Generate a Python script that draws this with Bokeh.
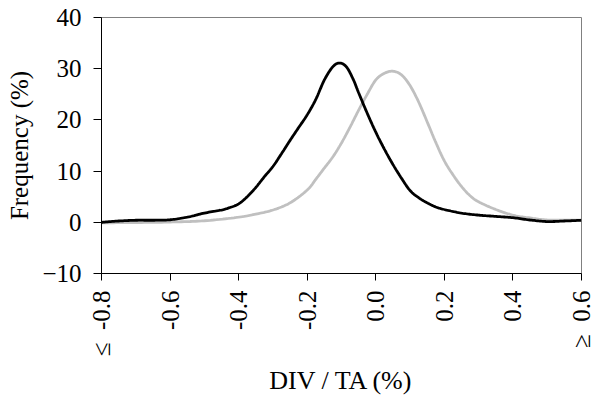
from bokeh.plotting import figure
from bokeh.models import FixedTicker, Range1d
from bokeh.embed import file_html
from bokeh.resources import INLINE

# Black series
x_black = [-0.800, -0.750, -0.700, -0.650, -0.600, -0.550, -0.500, -0.450, -0.425, -0.400,
           -0.375, -0.350, -0.325, -0.300, -0.275, -0.250, -0.225, -0.200, -0.175, -0.150,
           -0.125, -0.105, -0.085, -0.065, -0.050, -0.025, 0.000, 0.025, 0.050, 0.075,
           0.100, 0.125, 0.150, 0.175, 0.200, 0.250, 0.300, 0.350, 0.400, 0.450,
           0.500, 0.550, 0.600]
y_black = [0.0, 0.25, 0.4, 0.4, 0.5, 1.0, 1.8, 2.4, 2.9, 3.6,
           5.0, 6.8, 8.9, 10.9, 13.4, 16.0, 18.5, 21.0, 24.0, 27.8,
           30.4, 31.1, 30.3, 27.8, 25.3, 21.3, 17.6, 14.3, 11.3, 8.6,
           6.2, 4.8, 3.8, 3.0, 2.5, 1.8, 1.4, 1.15, 0.9, 0.45,
           0.15, 0.25, 0.4]

# Grey series
x_grey = [-0.800, -0.700, -0.600, -0.500, -0.400, -0.350, -0.300, -0.250, -0.200, -0.175,
          -0.150, -0.125, -0.100, -0.075, -0.050, -0.025, 0.000, 0.025, 0.050, 0.075,
          0.100, 0.125, 0.150, 0.175, 0.200, 0.225, 0.250, 0.275, 0.300, 0.350,
          0.400, 0.450, 0.500, 0.550, 0.600]
y_grey = [-0.1, -0.05, 0.05, 0.3, 1.0, 1.6, 2.4, 3.8, 6.3, 8.4,
          10.6, 12.8, 15.5, 18.6, 21.9, 25.0, 27.8, 29.1, 29.5, 28.8,
          26.7, 23.5, 19.6, 15.6, 12.0, 9.3, 7.0, 5.2, 4.0, 2.5,
          1.4, 0.85, 0.45, 0.4, 0.45]

x_ticks = [-0.8, -0.6, -0.4, -0.2, 0.0, 0.2, 0.4, 0.6]
x_tick_labels = ["\u2264\u00a0\u00a0-0.8", "-0.6", "-0.4", "-0.2", "0.0", "0.2", "0.4", "\u2265\u00a0\u00a00.6"]
y_ticks = [-10, 0, 10, 20, 30, 40]

FONT = "'Liberation Serif', 'Times New Roman', Times, serif"


def smooth(xs, ys, n=12):
    """Smoothed drawing of a polyline (Catmull-Rom), like a spreadsheet's smoothed line."""
    out_x, out_y = [], []
    m = len(xs)
    for i in range(m - 1):
        x0, y0 = (xs[i - 1], ys[i - 1]) if i > 0 else (xs[i], ys[i])
        x1, y1 = xs[i], ys[i]
        x2, y2 = xs[i + 1], ys[i + 1]
        x3, y3 = (xs[i + 2], ys[i + 2]) if i + 2 < m else (xs[i + 1], ys[i + 1])
        for k in range(n):
            t = k / n
            t2, t3 = t * t, t * t * t
            out_x.append(0.5 * (2 * x1 + (-x0 + x2) * t + (2 * x0 - 5 * x1 + 4 * x2 - x3) * t2
                                + (-x0 + 3 * x1 - 3 * x2 + x3) * t3))
            out_y.append(0.5 * (2 * y1 + (-y0 + y2) * t + (2 * y0 - 5 * y1 + 4 * y2 - y3) * t2
                                + (-y0 + 3 * y1 - 3 * y2 + y3) * t3))
    out_x.append(xs[-1])
    out_y.append(ys[-1])
    return out_x, out_y


p = figure(width=604, height=398, output_backend="svg", toolbar_location=None,
           x_range=Range1d(-0.8, 0.6), y_range=Range1d(-10, 40))
p.min_border_left = 101
p.min_border_right = 23
p.min_border_top = 17
p.min_border_bottom = 123
p.background_fill_color = "white"
p.border_fill_color = "white"
p.outline_line_color = "#808080"
p.outline_line_width = 1
p.xgrid.visible = False
p.ygrid.visible = False

gx, gy = smooth(x_grey, y_grey)
bx, by = smooth(x_black, y_black)
p.line(gx, gy, line_color="#c0c0c0", line_width=2.8)
p.line(bx, by, line_color="black", line_width=2.8)

xa = p.xaxis[0]
xa.ticker = FixedTicker(ticks=x_ticks)
xa.major_label_overrides = {t: l for t, l in zip(x_ticks, x_tick_labels)}
xa.major_label_orientation = 1.5707963
xa.major_label_text_font = FONT
xa.major_label_text_font_size = "25px"
xa.major_label_text_color = "black"
xa.major_label_standoff = 10
xa.major_tick_out = 7
xa.major_tick_in = 0
xa.minor_tick_line_color = None
xa.axis_line_color = "black"
xa.major_tick_line_color = "black"
xa.axis_label = "DIV / TA (%)"
xa.axis_label_text_font = FONT
xa.axis_label_text_font_size = "26px"
xa.axis_label_text_font_style = "normal"
xa.axis_label_text_color = "black"
xa.axis_label_standoff = 7

ya = p.yaxis[0]
ya.ticker = FixedTicker(ticks=y_ticks)
ya.major_label_text_font = FONT
ya.major_label_text_font_size = "25px"
ya.major_label_text_color = "black"
ya.major_label_standoff = 12
ya.major_tick_out = 8
ya.major_tick_in = 0
ya.minor_tick_line_color = None
ya.axis_line_color = "black"
ya.major_tick_line_color = "black"
ya.axis_label = "Frequency (%)"
ya.axis_label_text_font = FONT
ya.axis_label_text_font_size = "25px"
ya.axis_label_text_font_style = "normal"
ya.axis_label_text_color = "black"
ya.axis_label_standoff = 6

open("out.html", "w").write(file_html(p, INLINE))
